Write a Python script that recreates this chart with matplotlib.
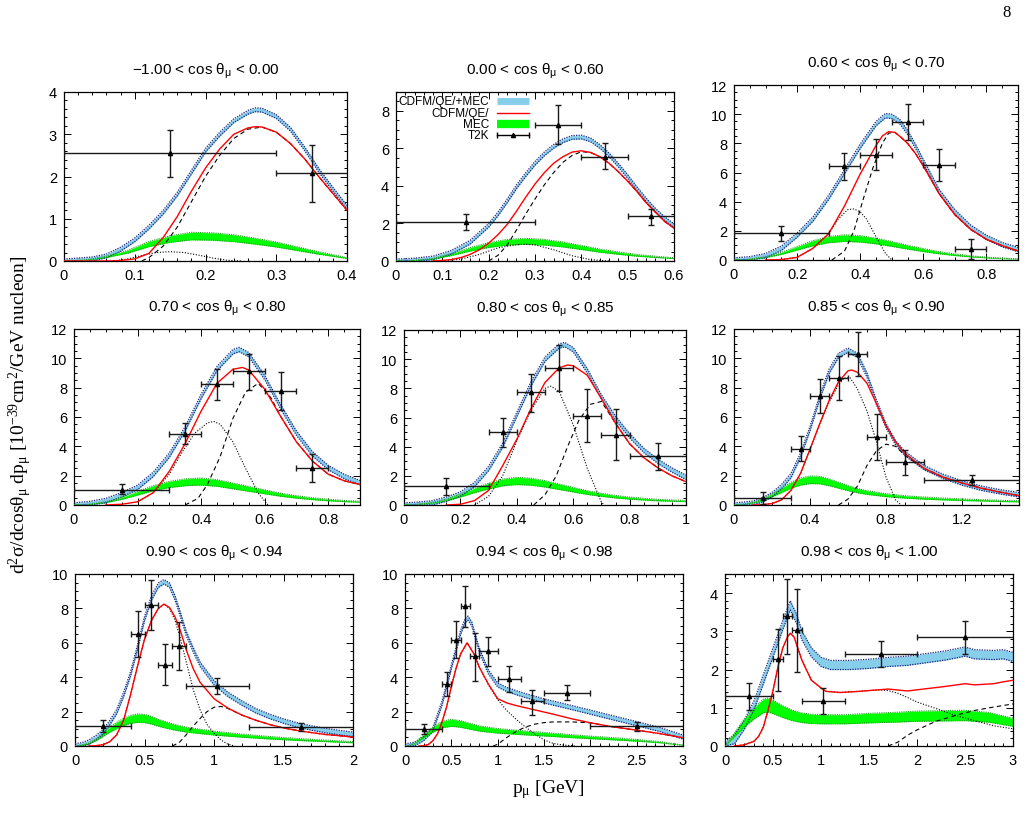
import matplotlib
matplotlib.use("Agg")
import matplotlib.pyplot as plt
from matplotlib.ticker import MultipleLocator, AutoMinorLocator

plt.rcParams['font.family'] = ['Liberation Sans', 'DejaVu Sans']
plt.rcParams['mathtext.default'] = 'regular'

# panel titles (cos theta_mu bins)
TITLES = [
    "\u22121.00 < cos \u03b8$_\u03bc$ < 0.00", "0.00 < cos \u03b8$_\u03bc$ < 0.60", "0.60 < cos \u03b8$_\u03bc$ < 0.70",
    "0.70 < cos \u03b8$_\u03bc$ < 0.80", "0.80 < cos \u03b8$_\u03bc$ < 0.85", "0.85 < cos \u03b8$_\u03bc$ < 0.90",
    "0.90 < cos \u03b8$_\u03bc$ < 0.94", "0.94 < cos \u03b8$_\u03bc$ < 0.98", "0.98 < cos \u03b8$_\u03bc$ < 1.00",
]

# ---- curves: (p_mu, value) ----
# FULL = CDFM/QE/+MEC (blue band centre), QE = CDFM/QE/ (red),
# DASH / DOT = black dashed / dotted components, MEC = green band centre
FULL1 = [(0.0,0.0),(0.04,0.05),(0.06,0.12),(0.08,0.28),(0.10,0.5),(0.12,0.8),(0.14,1.15),(0.16,1.58),(0.18,2.1),(0.20,2.62),(0.22,3.0),(0.24,3.32),(0.26,3.52),(0.27,3.58),(0.28,3.57),(0.30,3.42),(0.32,3.12),(0.34,2.66),(0.36,2.15),(0.38,1.7),(0.40,1.27)]
QE1 = [(0.0,0.0),(0.06,0.0),(0.08,0.01),(0.10,0.05),(0.12,0.18),(0.14,0.55),(0.16,1.05),(0.18,1.65),(0.20,2.2),(0.22,2.65),(0.24,3.0),(0.26,3.15),(0.27,3.18),(0.28,3.17),(0.30,3.05),(0.32,2.78),(0.34,2.42),(0.36,2.0),(0.38,1.6),(0.40,1.2)]
DASH1 = [(0.11,0.0),(0.12,0.08),(0.14,0.35),(0.16,0.8),(0.18,1.4),(0.20,2.0),(0.22,2.5),(0.24,2.9),(0.26,3.12),(0.28,3.17),(0.30,3.05),(0.32,2.78),(0.34,2.42),(0.36,2.0),(0.38,1.6),(0.40,1.2)]
DOT1 = [(0.07,0.0),(0.09,0.05),(0.11,0.13),(0.13,0.2),(0.15,0.22),(0.17,0.2),(0.19,0.14),(0.21,0.07),(0.23,0.02),(0.25,0.0)]
MEC1 = [(0.0,0.0),(0.03,0.02),(0.06,0.1),(0.09,0.22),(0.12,0.4),(0.15,0.52),(0.18,0.59),(0.21,0.58),(0.24,0.54),(0.27,0.47),(0.30,0.39),(0.33,0.29),(0.36,0.19),(0.40,0.07)]

FULL2 = [(0.0,0.0),(0.04,0.05),(0.08,0.16),(0.12,0.47),(0.16,1.0),(0.20,1.9),(0.22,2.5),(0.24,3.2),(0.26,3.95),(0.28,4.6),(0.30,5.2),(0.32,5.7),(0.34,6.1),(0.36,6.4),(0.38,6.58),(0.40,6.6),(0.42,6.45),(0.44,6.1),(0.46,5.65),(0.48,5.1),(0.50,4.5),(0.52,3.85),(0.54,3.25),(0.56,2.7),(0.58,2.25),(0.60,1.88)]
QE2 = [(0.08,0.0),(0.10,0.03),(0.12,0.08),(0.14,0.18),(0.16,0.35),(0.18,0.6),(0.20,0.95),(0.22,1.4),(0.24,1.95),(0.26,2.65),(0.28,3.4),(0.30,4.1),(0.32,4.7),(0.34,5.2),(0.36,5.55),(0.38,5.8),(0.40,5.87),(0.42,5.78),(0.44,5.55),(0.46,5.2),(0.48,4.75),(0.50,4.25),(0.52,3.7),(0.54,3.1),(0.56,2.6),(0.58,2.1),(0.60,1.75)]
DASH2 = [(0.20,0.0),(0.22,0.3),(0.24,0.85),(0.26,1.65),(0.28,2.5),(0.30,3.3),(0.32,4.05),(0.34,4.7),(0.36,5.25),(0.38,5.62),(0.40,5.82),(0.42,5.78),(0.44,5.55),(0.46,5.2),(0.48,4.75),(0.50,4.25),(0.52,3.7),(0.54,3.1),(0.56,2.6),(0.58,2.1),(0.60,1.75)]
DOT2 = [(0.10,0.0),(0.14,0.1),(0.18,0.35),(0.22,0.7),(0.26,0.87),(0.28,0.89),(0.30,0.86),(0.34,0.6),(0.38,0.28),(0.42,0.07),(0.46,0.0)]
MEC2 = [(0.0,0.0),(0.04,0.03),(0.08,0.12),(0.12,0.35),(0.16,0.62),(0.20,0.85),(0.24,1.0),(0.28,1.05),(0.32,1.0),(0.36,0.88),(0.40,0.72),(0.44,0.55),(0.48,0.42),(0.52,0.3),(0.56,0.22),(0.60,0.15)]

FULL3 = [(0.0,0.0),(0.05,0.08),(0.10,0.3),(0.15,0.8),(0.20,1.7),(0.25,2.8),(0.30,4.3),(0.35,6.05),(0.40,7.8),(0.45,9.35),(0.48,9.9),(0.50,9.85),(0.525,9.5),(0.55,8.75),(0.575,7.8),(0.60,6.75),(0.65,4.7),(0.70,3.3),(0.75,2.25),(0.80,1.55),(0.85,1.05),(0.90,0.72)]
QE3 = [(0.10,0.0),(0.15,0.03),(0.20,0.18),(0.25,0.8),(0.30,1.8),(0.35,3.7),(0.40,5.9),(0.45,7.85),(0.47,8.5),(0.49,8.8),(0.51,8.75),(0.53,8.4),(0.55,8.0),(0.575,7.3),(0.60,6.45),(0.65,4.55),(0.70,3.1),(0.75,2.1),(0.80,1.42),(0.85,0.98),(0.90,0.62)]
DASH3 = [(0.31,0.0),(0.35,0.6),(0.38,2.0),(0.41,4.2),(0.44,6.3),(0.47,8.0),(0.49,8.7),(0.51,8.75),(0.53,8.4),(0.55,8.0),(0.575,7.3),(0.60,6.45),(0.65,4.55),(0.70,3.1),(0.75,2.1),(0.80,1.42),(0.85,0.98),(0.90,0.62)]
DOT3 = [(0.15,0.03),(0.20,0.18),(0.25,0.8),(0.30,1.8),(0.33,2.8),(0.36,3.45),(0.38,3.5),(0.40,3.3),(0.42,2.8),(0.45,1.6),(0.48,0.45),(0.50,0.0)]
MEC3 = [(0.0,0.0),(0.05,0.05),(0.10,0.2),(0.15,0.45),(0.20,0.8),(0.25,1.15),(0.30,1.4),(0.35,1.5),(0.40,1.45),(0.45,1.3),(0.50,1.1),(0.55,0.88),(0.60,0.68),(0.65,0.5),(0.70,0.36),(0.75,0.25),(0.80,0.17),(0.85,0.11),(0.90,0.07)]

FULL4 = [(0.0,0.0),(0.05,0.1),(0.10,0.3),(0.15,0.7),(0.20,1.2),(0.25,2.1),(0.30,3.4),(0.35,5.2),(0.40,7.4),(0.45,9.3),(0.50,10.45),(0.52,10.6),(0.55,10.25),(0.60,8.7),(0.65,6.7),(0.70,4.9),(0.75,3.5),(0.80,2.55),(0.85,1.95),(0.90,1.52)]
QE4 = [(0.10,0.0),(0.15,0.05),(0.20,0.22),(0.25,0.85),(0.30,2.3),(0.35,4.2),(0.40,6.4),(0.45,8.3),(0.50,9.25),(0.53,9.38),(0.55,9.2),(0.60,7.9),(0.65,6.05),(0.70,4.3),(0.75,3.0),(0.80,2.1),(0.85,1.65),(0.90,1.4)]
DASH4 = [(0.35,0.0),(0.39,0.45),(0.42,1.4),(0.46,3.3),(0.50,5.9),(0.54,7.7),(0.58,8.3),(0.62,7.3),(0.65,6.05),(0.70,4.3),(0.75,3.0),(0.80,2.1),(0.85,1.65),(0.90,1.4)]
DOT4 = [(0.20,0.2),(0.25,0.85),(0.30,2.1),(0.34,3.6),(0.38,4.9),(0.42,5.6),(0.44,5.7),(0.46,5.5),(0.50,4.3),(0.54,2.5),(0.58,0.8),(0.61,0.0)]
MEC4 = [(0.0,0.0),(0.05,0.05),(0.10,0.2),(0.15,0.45),(0.20,0.8),(0.25,1.15),(0.30,1.4),(0.35,1.55),(0.40,1.6),(0.45,1.5),(0.50,1.3),(0.55,1.1),(0.60,0.9),(0.65,0.7),(0.70,0.55),(0.75,0.43),(0.80,0.34),(0.85,0.27),(0.90,0.22)]

FULL5 = [(0.0,0.0),(0.05,0.05),(0.10,0.15),(0.15,0.4),(0.20,0.75),(0.25,1.4),(0.30,2.5),(0.35,4.1),(0.40,6.2),(0.45,8.3),(0.50,10.0),(0.55,10.9),(0.57,11.0),(0.60,10.65),(0.65,9.2),(0.70,7.4),(0.75,5.95),(0.80,4.75),(0.85,3.75),(0.90,3.0),(0.95,2.4),(1.0,1.9)]
QE5 = [(0.15,0.0),(0.20,0.05),(0.25,0.3),(0.30,1.0),(0.35,2.7),(0.40,4.5),(0.45,6.6),(0.50,8.4),(0.55,9.4),(0.58,9.6),(0.60,9.55),(0.65,8.9),(0.70,7.3),(0.75,5.6),(0.80,4.2),(0.85,3.25),(0.90,2.55),(0.95,2.0),(1.0,1.6)]
DASH5 = [(0.46,0.0),(0.50,0.7),(0.54,2.0),(0.58,4.0),(0.62,5.8),(0.66,6.9),(0.70,7.1),(0.75,5.6),(0.80,4.2),(0.85,3.25),(0.90,2.55),(0.95,2.0),(1.0,1.6)]
DOT5 = [(0.25,0.0),(0.30,0.6),(0.35,2.0),(0.40,4.4),(0.45,6.5),(0.50,8.0),(0.52,8.15),(0.55,7.8),(0.60,5.5),(0.65,2.5),(0.70,0.2),(0.71,0.0)]
MEC5 = [(0.0,0.0),(0.05,0.05),(0.10,0.15),(0.15,0.35),(0.20,0.65),(0.25,1.0),(0.30,1.3),(0.35,1.55),(0.40,1.65),(0.45,1.6),(0.50,1.45),(0.55,1.25),(0.60,1.05),(0.65,0.85),(0.70,0.7),(0.75,0.57),(0.80,0.47),(0.85,0.4),(0.90,0.34),(0.95,0.3),(1.0,0.27)]

FULL6 = [(0.0,0.0),(0.05,0.05),(0.10,0.12),(0.15,0.35),(0.20,0.7),(0.25,1.25),(0.30,2.0),(0.35,3.4),(0.40,5.2),(0.45,7.3),(0.50,9.1),(0.55,10.2),(0.60,10.55),(0.65,10.2),(0.70,8.85),(0.75,7.0),(0.80,5.4),(0.85,4.25),(0.90,3.5),(1.0,2.55),(1.1,1.95),(1.2,1.5),(1.3,1.15),(1.4,0.9),(1.5,0.7)]
QE6 = [(0.10,0.0),(0.15,0.02),(0.20,0.1),(0.25,0.35),(0.30,1.0),(0.35,2.15),(0.40,3.8),(0.45,5.5),(0.50,7.1),(0.55,8.4),(0.60,9.15),(0.62,9.2),(0.65,9.05),(0.70,8.3),(0.75,6.9),(0.80,5.4),(0.85,4.3),(0.90,3.5),(1.0,2.5),(1.1,1.9),(1.2,1.5),(1.3,1.15),(1.4,0.88),(1.5,0.64)]
DASH6 = [(0.55,0.0),(0.60,0.4),(0.65,1.3),(0.70,2.7),(0.75,3.7),(0.80,4.15),(0.85,4.0),(0.90,3.4),(1.0,2.5),(1.1,1.9),(1.2,1.5),(1.3,1.15),(1.4,0.88),(1.5,0.64)]
DOT6 = [(0.15,0.02),(0.20,0.1),(0.25,0.35),(0.30,1.0),(0.35,2.15),(0.40,3.8),(0.45,5.5),(0.50,7.0),(0.55,8.2),(0.58,8.65),(0.61,8.7),(0.65,7.9),(0.70,6.4),(0.75,4.3),(0.80,1.9),(0.85,0.35),(0.88,0.0)]
MEC6 = [(0.0,0.0),(0.05,0.05),(0.10,0.15),(0.15,0.35),(0.20,0.65),(0.25,1.0),(0.30,1.35),(0.35,1.6),(0.40,1.72),(0.45,1.7),(0.50,1.55),(0.55,1.35),(0.60,1.15),(0.65,0.98),(0.70,0.85),(0.80,0.67),(0.90,0.55),(1.0,0.47),(1.1,0.41),(1.2,0.36),(1.3,0.32),(1.4,0.28),(1.5,0.25)]

FULL7 = [(0.0,0.0),(0.05,0.07),(0.10,0.22),(0.15,0.48),(0.20,0.8),(0.25,1.35),(0.30,2.0),(0.35,3.0),(0.40,4.2),(0.45,5.75),(0.50,7.4),(0.55,8.6),(0.60,9.35),(0.64,9.55),(0.68,9.35),(0.72,8.6),(0.76,7.6),(0.80,6.55),(0.85,5.6),(0.90,4.75),(1.0,3.68),(1.1,3.0),(1.2,2.5),(1.3,2.05),(1.4,1.72),(1.5,1.45),(1.6,1.22),(1.7,1.05),(1.8,0.9),(1.9,0.78),(2.0,0.68)]
QE7 = [(0.10,0.0),(0.15,0.02),(0.20,0.07),(0.25,0.25),(0.30,0.65),(0.35,1.5),(0.40,3.0),(0.45,4.65),(0.50,6.2),(0.55,7.3),(0.60,8.0),(0.64,8.25),(0.68,8.05),(0.72,7.5),(0.76,6.65),(0.80,5.6),(0.85,4.5),(0.90,3.7),(1.0,2.75),(1.1,2.2),(1.2,1.8),(1.3,1.5),(1.4,1.25),(1.5,1.05),(1.6,0.9),(1.7,0.78),(1.8,0.67),(1.9,0.6),(2.0,0.52)]
DASH7 = [(0.70,0.0),(0.75,0.2),(0.80,0.65),(0.85,1.15),(0.90,1.6),(0.95,2.0),(1.0,2.25),(1.05,2.3),(1.1,2.18),(1.2,1.8),(1.3,1.5),(1.4,1.25),(1.5,1.05),(1.6,0.9),(1.7,0.78),(1.8,0.67),(1.9,0.6),(2.0,0.52)]
DOT7 = [(0.15,0.02),(0.20,0.07),(0.25,0.25),(0.30,0.65),(0.35,1.5),(0.40,3.0),(0.45,4.65),(0.50,6.2),(0.55,7.3),(0.60,8.0),(0.64,8.25),(0.68,8.0),(0.72,7.3),(0.76,6.2),(0.80,4.9),(0.85,3.3),(0.90,2.1),(0.95,1.25),(1.0,0.75),(1.05,0.35),(1.1,0.1),(1.15,0.0)]
MEC7 = [(0.0,0.0),(0.05,0.05),(0.10,0.15),(0.15,0.35),(0.20,0.65),(0.25,0.95),(0.30,1.2),(0.35,1.4),(0.40,1.55),(0.45,1.62),(0.50,1.6),(0.55,1.5),(0.60,1.35),(0.70,1.12),(0.80,0.95),(0.90,0.85),(1.0,0.75),(1.2,0.6),(1.4,0.48),(1.6,0.38),(1.8,0.3),(2.0,0.22)]

FULL8 = [(0.0,0.0),(0.1,0.1),(0.2,0.42),(0.3,0.95),(0.4,2.5),(0.5,4.6),(0.6,6.6),(0.65,7.3),(0.68,7.43),(0.72,7.1),(0.8,5.6),(0.9,4.3),(1.0,3.55),(1.1,3.28),(1.2,3.1),(1.3,2.93),(1.4,2.78),(1.5,2.62),(1.75,2.3),(2.0,1.97),(2.25,1.63),(2.5,1.3),(2.75,0.96),(3.0,0.52)]
QE8 = [(0.15,0.0),(0.2,0.02),(0.25,0.08),(0.3,0.3),(0.35,0.7),(0.4,1.4),(0.45,2.3),(0.5,3.45),(0.55,4.5),(0.6,5.35),(0.67,6.0),(0.75,5.3),(0.8,4.6),(0.9,3.6),(1.0,2.75),(1.1,2.5),(1.2,2.35),(1.4,2.1),(1.6,1.85),(1.8,1.58),(2.0,1.35),(2.2,1.15),(2.5,0.92),(2.75,0.72),(3.0,0.48)]
DASH8 = [(0.95,0.0),(1.0,0.1),(1.1,0.5),(1.2,0.85),(1.3,1.1),(1.4,1.27),(1.5,1.36),(1.6,1.4),(1.8,1.4),(2.0,1.35),(2.2,1.15),(2.5,0.92),(2.75,0.72),(3.0,0.48)]
DOT8 = [(0.2,0.02),(0.25,0.08),(0.3,0.3),(0.35,0.7),(0.4,1.4),(0.45,2.3),(0.5,3.45),(0.55,4.5),(0.6,5.35),(0.67,6.0),(0.75,5.3),(0.8,4.6),(0.9,3.55),(1.0,2.7),(1.1,2.05),(1.2,1.55),(1.3,1.1),(1.4,0.7),(1.5,0.35),(1.6,0.15),(1.7,0.06),(1.85,0.0)]
MEC8 = [(0.0,0.0),(0.05,0.05),(0.1,0.15),(0.2,0.55),(0.3,0.95),(0.4,1.25),(0.5,1.35),(0.6,1.28),(0.7,1.15),(0.8,1.02),(0.9,0.95),(1.0,0.88),(1.2,0.8),(1.4,0.72),(1.6,0.65),(1.8,0.57),(2.0,0.5),(2.25,0.42),(2.5,0.33),(2.75,0.22),(3.0,0.05)]

FULL9 = [(0.0,0.0),(0.1,0.18),(0.2,0.55),(0.3,1.05),(0.4,1.75),(0.5,2.45),(0.6,3.15),(0.68,3.68),(0.75,3.3),(0.8,2.9),(0.9,2.45),(1.0,2.2),(1.1,2.12),(1.3,2.12),(1.5,2.15),(1.7,2.2),(1.9,2.23),(2.1,2.3),(2.3,2.37),(2.5,2.47),(2.6,2.4),(2.8,2.38),(2.9,2.4),(3.0,2.33)]
QE9 = [(0.1,0.0),(0.2,0.03),(0.3,0.12),(0.35,0.25),(0.4,0.5),(0.45,0.95),(0.5,1.45),(0.55,2.05),(0.6,2.55),(0.65,2.85),(0.68,2.95),(0.72,2.85),(0.8,2.25),(0.9,1.72),(1.0,1.52),(1.05,1.43),(1.2,1.4),(1.4,1.43),(1.6,1.47),(1.7,1.49),(1.9,1.44),(2.1,1.5),(2.3,1.56),(2.5,1.63),(2.6,1.6),(2.8,1.63),(2.9,1.68),(3.0,1.72)]
DASH9 = [(1.7,0.0),(1.8,0.1),(1.9,0.28),(2.0,0.42),(2.2,0.65),(2.4,0.8),(2.6,0.93),(2.8,1.02),(3.0,1.1)]
DOT9 = [(0.1,0.0),(0.2,0.03),(0.3,0.12),(0.35,0.25),(0.4,0.5),(0.45,0.95),(0.5,1.45),(0.55,2.05),(0.6,2.55),(0.65,2.85),(0.68,2.95),(0.72,2.85),(0.8,2.25),(0.9,1.72),(1.0,1.52),(1.05,1.43),(1.2,1.4),(1.4,1.43),(1.6,1.47),(1.7,1.45),(1.8,1.38),(1.9,1.27),(2.0,1.15),(2.2,0.98),(2.4,0.8),(2.6,0.66),(2.8,0.53),(3.0,0.45)]
MEC9 = [(0.0,0.0),(0.1,0.3),(0.2,0.6),(0.3,0.85),(0.4,1.05),(0.45,1.07),(0.5,1.02),(0.6,0.9),(0.7,0.8),(0.8,0.74),(0.9,0.71),(1.0,0.7),(1.25,0.7),(1.5,0.73),(1.75,0.75),(2.0,0.78),(2.25,0.79),(2.5,0.8),(2.75,0.75),(3.0,0.62)]

# band half widths (blue: absolute, green: fraction of value)
FULL_HW = [0.045, 0.1, 0.15, 0.15, 0.15, 0.15, 0.13, 0.12, 0.12]
MEC_REL = [0.15, 0.15, 0.15, 0.15, 0.15, 0.15, 0.15, 0.15, 0.17]

# ---- T2K data: (p, value, p_lo, p_hi, value_lo, value_hi) ----
T2K1 = [(0.15,2.56,0.0,0.3,2.0,3.1),(0.35,2.08,0.3,30.0,1.4,2.75)]
T2K2 = [(0.15,2.08,0.0,0.3,1.65,2.49),(0.35,7.24,0.3,0.4,6.22,8.3),(0.45,5.55,0.4,0.5,4.89,6.26),(0.55,2.4,0.5,30.0,1.92,2.76)]
T2K3 = [(0.15,1.84,0.0,0.3,1.31,2.3),(0.35,6.44,0.3,0.4,5.52,7.33),(0.45,7.22,0.4,0.5,6.14,8.28),(0.55,9.47,0.5,0.6,8.21,10.67),(0.65,6.53,0.6,0.7,5.45,7.63),(0.75,0.74,0.7,0.8,0.09,1.43)]
T2K4 = [(0.15,1.05,0.0,0.3,0.73,1.41),(0.35,4.87,0.3,0.4,4.19,5.56),(0.45,8.22,0.4,0.5,7.15,9.27),(0.55,9.16,0.5,0.6,7.84,10.3),(0.65,7.77,0.6,0.7,6.47,9.04),(0.75,2.55,0.7,0.8,1.59,3.46)]
T2K5 = [(0.15,1.33,0.0,0.3,0.7,1.84),(0.35,4.99,0.3,0.4,4.01,5.99),(0.45,7.72,0.4,0.5,6.41,8.97),(0.55,9.42,0.5,0.6,7.81,11.0),(0.65,6.11,0.6,0.7,4.29,7.93),(0.75,4.83,0.7,0.8,3.08,6.57),(0.9,3.36,0.8,30.0,2.42,4.22)]
T2K6 = [(0.15,0.48,0.0,0.3,0.1,0.88),(0.35,3.8,0.3,0.4,2.97,4.68),(0.45,7.41,0.4,0.5,6.3,8.6),(0.55,8.67,0.5,0.6,7.15,10.15),(0.65,10.29,0.6,0.7,8.77,11.81),(0.75,4.63,0.7,0.8,3.07,6.23),(0.9,2.9,0.8,1.0,2.07,3.73),(1.25,1.71,1.0,30.0,1.35,2.07)]
T2K7 = [(0.2,1.16,0.0,0.4,0.81,1.53),(0.45,6.52,0.4,0.5,5.2,7.83),(0.55,8.22,0.5,0.6,6.75,9.67),(0.65,4.72,0.6,0.7,3.52,5.94),(0.75,5.84,0.7,0.8,4.43,7.23),(1.025,3.5,0.8,1.25,3.04,3.97),(1.625,1.1,1.25,30.0,0.85,1.33)]
T2K8 = [(0.2,0.97,0.0,0.4,0.68,1.26),(0.45,3.62,0.4,0.5,2.88,4.29),(0.55,6.17,0.5,0.6,5.1,7.25),(0.65,8.16,0.6,0.7,6.94,9.32),(0.75,5.22,0.7,0.8,3.77,6.58),(0.9,5.55,0.8,1.0,4.68,6.32),(1.125,3.91,1.0,1.25,3.13,4.64),(1.375,2.59,1.25,1.5,1.82,3.27),(1.75,3.08,1.5,2.0,2.65,3.52),(2.5,1.14,2.0,30.0,0.85,1.39)]
T2K9 = [(0.25,1.3,0.0,0.5,0.95,1.64),(0.55,2.28,0.5,0.6,1.44,3.06),(0.65,3.4,0.6,0.7,2.4,4.38),(0.75,3.04,0.7,0.8,1.93,4.11),(1.025,1.18,0.8,1.25,0.83,1.52),(1.625,2.41,1.25,2.0,2.06,2.75),(2.5,2.84,2.0,30.0,2.42,3.26)]

FULLS = [FULL1, FULL2, FULL3, FULL4, FULL5, FULL6, FULL7, FULL8, FULL9]
QES = [QE1, QE2, QE3, QE4, QE5, QE6, QE7, QE8, QE9]
DASHES = [DASH1, DASH2, DASH3, DASH4, DASH5, DASH6, DASH7, DASH8, DASH9]
DOTS = [DOT1, DOT2, DOT3, DOT4, DOT5, DOT6, DOT7, DOT8, DOT9]
MECS = [MEC1, MEC2, MEC3, MEC4, MEC5, MEC6, MEC7, MEC8, MEC9]
T2KS = [T2K1, T2K2, T2K3, T2K4, T2K5, T2K6, T2K7, T2K8, T2K9]

# layout: pixel boxes (left, top, right, bottom), axis ranges and tick steps
W, H = 1027, 829
BOXES = [(64, 93, 347, 262), (396, 93, 674, 262), (734, 86, 1018, 261),
         (74, 330, 360, 506), (404, 331, 686, 506), (734, 330, 1019, 506),
         (75, 575, 353, 747), (405, 575, 683, 747), (725, 575, 1013, 747)]
XMAX = [0.4, 0.6, 0.9, 0.9, 1.0, 1.5, 2.0, 3.0, 3.0]
XSTEP = [0.1, 0.1, 0.2, 0.2, 0.2, 0.4, 0.5, 0.5, 0.5]
YMAX = [4, 9, 12, 12, 12, 12, 10, 10, 4.5]
YSTEP = [1, 2, 2, 2, 2, 2, 2, 2, 1]

SKY = '#87ceeb'
SKY_EDGE = '#1a237e'
GREEN = '#00ff00'
GREEN_EDGE = '#1e9e1e'


def xy(pts):
    return [p[0] for p in pts], [p[1] for p in pts]


def fmt_tick(v, pos):
    s = f"{v:.1f}"
    if s.endswith(".0"):
        s = s[:-2]
    return s


fig = plt.figure(figsize=(W / 100, H / 100), dpi=100)

for i in range(9):
    l, t, r, b = BOXES[i]
    ax = fig.add_axes([l / W, 1 - b / H, (r - l) / W, (b - t) / H])

    # blue band CDFM/QE/+MEC
    x, y = xy(FULLS[i])
    lo = [max(v - FULL_HW[i], 0) for v in y]
    hi = [v + FULL_HW[i] for v in y]
    ax.fill_between(x, lo, hi, color=SKY, lw=0, zorder=2)
    ax.plot(x, lo, color=SKY_EDGE, ls=(0, (1, 1)), lw=0.9, zorder=3)
    ax.plot(x, hi, color=SKY_EDGE, ls=(0, (1, 1)), lw=0.9, zorder=3)

    # green band MEC
    x, y = xy(MECS[i])
    lo = [v * (1 - MEC_REL[i]) for v in y]
    hi = [v * (1 + MEC_REL[i]) for v in y]
    ax.fill_between(x, lo, hi, color=GREEN, lw=0, zorder=2)
    ax.plot(x, lo, color=GREEN_EDGE, ls=(0, (1, 1)), lw=0.8, zorder=3)
    ax.plot(x, hi, color=GREEN_EDGE, ls=(0, (1, 1)), lw=0.8, zorder=3)

    # components
    x, y = xy(DASHES[i])
    ax.plot(x, y, color='black', ls=(0, (4, 3)), lw=0.8, zorder=4)
    x, y = xy(DOTS[i])
    ax.plot(x, y, color='black', ls=(0, (1, 1.5)), lw=0.8, zorder=4)
    x, y = xy(QES[i])
    ax.plot(x, y, color='red', lw=1.0, zorder=5)

    # T2K points
    for (px, py, xl, xh, yl, yh) in T2KS[i]:
        ax.errorbar([px], [py], xerr=[[px - xl], [xh - px]], yerr=[[py - yl], [yh - py]],
                    fmt='^', ms=3, color='black', ecolor='#1a1a1a', elinewidth=1.0,
                    capsize=2.5, capthick=1.0, zorder=6)

    ax.set_xlim(0, XMAX[i])
    ax.set_ylim(0, YMAX[i])
    ax.xaxis.set_major_locator(MultipleLocator(XSTEP[i]))
    ax.yaxis.set_major_locator(MultipleLocator(YSTEP[i]))
    ax.xaxis.set_minor_locator(AutoMinorLocator())
    ax.yaxis.set_minor_locator(AutoMinorLocator())
    ax.xaxis.set_major_formatter(plt.FuncFormatter(fmt_tick))
    ax.yaxis.set_major_formatter(plt.FuncFormatter(fmt_tick))
    ax.tick_params(which='both', direction='in', top=True, right=True, labelsize=10.5, width=0.7)
    ax.tick_params(which='major', length=5, pad=5)
    ax.tick_params(which='minor', length=2.5)
    for sp in ax.spines.values():
        sp.set_linewidth(0.9)
    ax.set_title(TITLES[i], fontsize=11, pad=13,
                 family=['Liberation Sans Narrow', 'Liberation Sans', 'DejaVu Sans'])

    if i == 1:
        # gnuplot style key: label right-aligned, sample on the right
        kx_text, kx0, kx1 = 0.335, 0.365, 0.48
        rows = [0.945, 0.878, 0.811, 0.744]
        labels = ["CDFM/QE/+MEC", "CDFM/QE/", "MEC", "T2K"]
        for lab, ky in zip(labels, rows):
            ax.text(kx_text, ky, lab, transform=ax.transAxes, ha='right', va='center', fontsize=8.5)
        ax.plot([kx0, kx1], [rows[0]] * 2, transform=ax.transAxes, color=SKY, lw=5, solid_capstyle='butt', zorder=7)
        ax.plot([kx0, kx1], [rows[1]] * 2, transform=ax.transAxes, color='red', lw=1.0, zorder=7)
        ax.plot([kx0, kx1], [rows[2]] * 2, transform=ax.transAxes, color=GREEN, lw=6, solid_capstyle='butt', zorder=7)
        ax.plot([kx0, kx1], [rows[3]] * 2, transform=ax.transAxes, color='black', lw=1.0, zorder=7)
        ax.plot([kx0, kx1], [rows[3]] * 2, transform=ax.transAxes, color='black', ls='none', marker='|', ms=5, zorder=7)
        ax.plot([(kx0 + kx1) / 2], [rows[3]], transform=ax.transAxes, color='black', marker='^', ms=3, zorder=7)

fig.text(20 / W, 1 - 415 / H, "d$^2$\u03c3/dcos\u03b8$_\u03bc$ dp$_\u03bc$ [10$^{-39}$cm$^2$/GeV nucleon]",
         rotation=90, ha='center', va='center', fontsize=14, family=['Liberation Serif', 'DejaVu Serif'])
fig.text(548 / W, 1 - 790 / H, "p$_\u03bc$ [GeV]", ha='center', va='center', fontsize=14,
         family=['Liberation Serif', 'DejaVu Serif'])
fig.text(1007 / W, 1 - 13 / H, "8", ha='center', va='center', fontsize=12,
         family=['Liberation Serif', 'DejaVu Serif'])

fig.savefig("out.png", dpi=100)
